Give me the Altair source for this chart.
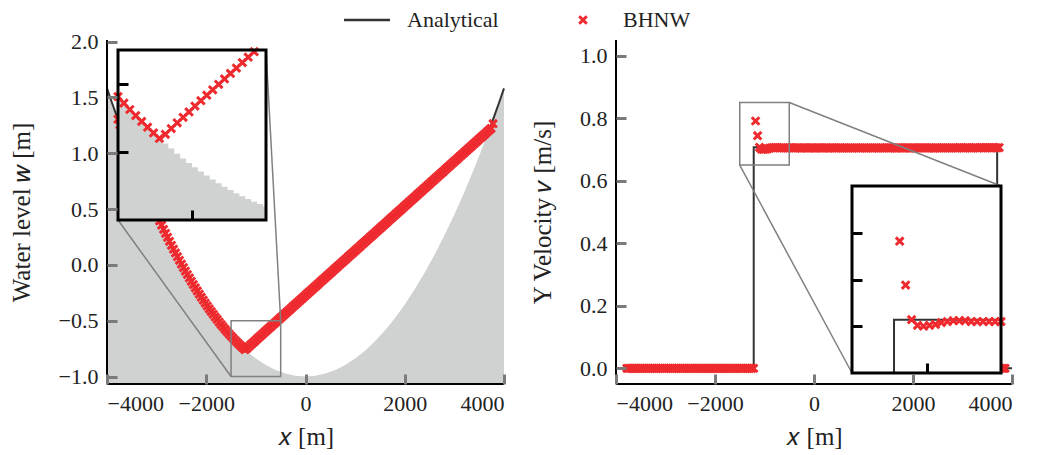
import altair as alt
import pandas as pd

# ---------------- data ----------------
X_CELLS = [
    -3780, -3740, -3700, -3660, -3620, -3580, -3540, -3500, -3460, -3420,
    -3380, -3340, -3300, -3260, -3220, -3180, -3140, -3100, -3060, -3020,
    -2980, -2940, -2900, -2860, -2820, -2780, -2740, -2700, -2660, -2620,
    -2580, -2540, -2500, -2460, -2420, -2380, -2340, -2300, -2260, -2220,
    -2180, -2140, -2100, -2060, -2020, -1980, -1940, -1900, -1860, -1820,
    -1780, -1740, -1700, -1660, -1620, -1580, -1540, -1500, -1460, -1420,
    -1380, -1340, -1300, -1260, -1220, -1180, -1140, -1100, -1060, -1020,
    -980, -940, -900, -860, -820, -780, -740, -700, -660, -620,
    -580, -540, -500, -460, -420, -380, -340, -300, -260, -220,
    -180, -140, -100, -60, -20, 20, 60, 100, 140, 180,
    220, 260, 300, 340, 380, 420, 460, 500, 540, 580,
    620, 660, 700, 740, 780, 820, 860, 900, 940, 980,
    1020, 1060, 1100, 1140, 1180, 1220, 1260, 1300, 1340, 1380,
    1420, 1460, 1500, 1540, 1580, 1620, 1660, 1700, 1740, 1780,
    1820, 1860, 1900, 1940, 1980, 2020, 2060, 2100, 2140, 2180,
    2220, 2260, 2300, 2340, 2380, 2420, 2460, 2500, 2540, 2580,
    2620, 2660, 2700, 2740, 2780, 2820, 2860, 2900, 2940, 2980,
    3020, 3060, 3100, 3140, 3180, 3220, 3260, 3300, 3340, 3380,
    3420, 3460, 3500, 3540, 3580, 3620, 3660, 3700, 3740, 3780,
    3820, 3860,
]

# BHNW water level w (first 190 cells)
W_BHNW = [
    1.305, 1.256, 1.208, 1.161, 1.114, 1.067, 1.021, 0.976, 0.931, 0.887,
    0.843, 0.799, 0.756, 0.714, 0.672, 0.631, 0.590, 0.550, 0.510, 0.471,
    0.432, 0.394, 0.356, 0.319, 0.283, 0.247, 0.211, 0.176, 0.141, 0.107,
    0.074, 0.041, 0.008, -0.024, -0.055, -0.086, -0.117, -0.147, -0.176, -0.205,
    -0.233, -0.261, -0.289, -0.316, -0.342, -0.368, -0.393, -0.418, -0.442, -0.466,
    -0.489, -0.512, -0.534, -0.556, -0.577, -0.597, -0.617, -0.637, -0.656, -0.675,
    -0.693, -0.710, -0.727, -0.744, -0.760, -0.748, -0.731, -0.714, -0.698, -0.682,
    -0.665, -0.649, -0.633, -0.617, -0.601, -0.585, -0.569, -0.553, -0.537, -0.521,
    -0.505, -0.489, -0.473, -0.457, -0.441, -0.425, -0.409, -0.393, -0.377, -0.361,
    -0.345, -0.329, -0.313, -0.297, -0.281, -0.265, -0.249, -0.233, -0.217, -0.201,
    -0.185, -0.169, -0.153, -0.137, -0.121, -0.105, -0.089, -0.073, -0.057, -0.041,
    -0.025, -0.009, 0.007, 0.023, 0.039, 0.055, 0.071, 0.087, 0.103, 0.119,
    0.135, 0.151, 0.167, 0.183, 0.199, 0.215, 0.231, 0.247, 0.263, 0.279,
    0.295, 0.311, 0.327, 0.343, 0.359, 0.375, 0.391, 0.407, 0.423, 0.439,
    0.455, 0.471, 0.487, 0.503, 0.519, 0.535, 0.551, 0.567, 0.583, 0.599,
    0.615, 0.631, 0.647, 0.663, 0.679, 0.695, 0.711, 0.727, 0.743, 0.759,
    0.775, 0.791, 0.807, 0.823, 0.839, 0.855, 0.871, 0.887, 0.903, 0.919,
    0.935, 0.951, 0.967, 0.983, 0.999, 1.015, 1.031, 1.047, 1.063, 1.079,
    1.095, 1.111, 1.127, 1.143, 1.159, 1.175, 1.191, 1.207, 1.223, 1.265,
]

# BHNW y-velocity v (all 192 cells)
V_BHNW = [
    0.0, 0.0, 0.0, 0.0, 0.0, 0.0, 0.0, 0.0, 0.0, 0.0,
    0.0, 0.0, 0.0, 0.0, 0.0, 0.0, 0.0, 0.0, 0.0, 0.0,
    0.0, 0.0, 0.0, 0.0, 0.0, 0.0, 0.0, 0.0, 0.0, 0.0,
    0.0, 0.0, 0.0, 0.0, 0.0, 0.0, 0.0, 0.0, 0.0, 0.0,
    0.0, 0.0, 0.0, 0.0, 0.0, 0.0, 0.0, 0.0, 0.0, 0.0,
    0.0, 0.0, 0.0, 0.0, 0.0, 0.0, 0.0, 0.0, 0.0, 0.0,
    0.0, 0.0, 0.0, 0.0, 0.0, 0.791, 0.744, 0.707, 0.701, 0.700,
    0.701, 0.702, 0.704, 0.705, 0.706, 0.706, 0.706, 0.705, 0.705, 0.705,
    0.705, 0.705, 0.705, 0.706, 0.705, 0.705, 0.705, 0.705, 0.704, 0.705,
    0.705, 0.705, 0.705, 0.705, 0.705, 0.704, 0.705, 0.705, 0.705, 0.705,
    0.705, 0.705, 0.704, 0.705, 0.705, 0.705, 0.705, 0.705, 0.705, 0.704,
    0.705, 0.705, 0.705, 0.705, 0.704, 0.705, 0.705, 0.705, 0.705, 0.705,
    0.705, 0.704, 0.705, 0.705, 0.705, 0.705, 0.705, 0.704, 0.705, 0.705,
    0.705, 0.705, 0.705, 0.705, 0.705, 0.705, 0.704, 0.705, 0.705, 0.705,
    0.705, 0.705, 0.705, 0.704, 0.705, 0.705, 0.705, 0.705, 0.705, 0.705,
    0.705, 0.705, 0.705, 0.705, 0.705, 0.704, 0.705, 0.705, 0.705, 0.705,
    0.705, 0.705, 0.705, 0.705, 0.705, 0.705, 0.705, 0.705, 0.706, 0.705,
    0.705, 0.705, 0.706, 0.705, 0.705, 0.705, 0.706, 0.705, 0.705, 0.706,
    0.705, 0.706, 0.705, 0.706, 0.705, 0.706, 0.706, 0.705, 0.706, 0.0,
    0.0, 0.0,
]

# bathymetry (gray fill) of the left panel
BED_X = [-4000, -3800, -3600, -3400, -3200, -3000, -2800, -2600, -2400, -2200,
         -2000, -1800, -1600, -1400, -1200, -1000, -800, -600, -400, -200, 0,
         200, 400, 600, 800, 1000, 1200, 1400, 1600, 1800, 2000,
         2200, 2400, 2600, 2800, 3000, 3200, 3400, 3600, 3800, 4000]
BED_Z = [1.581, 1.329, 1.090, 0.865, 0.652, 0.452, 0.265, 0.090, -0.071, -0.219,
         -0.355, -0.477, -0.587, -0.684, -0.768, -0.839, -0.897, -0.942, -0.974, -0.994, -1.000,
         -0.994, -0.974, -0.942, -0.897, -0.839, -0.768, -0.684, -0.587, -0.477, -0.355,
         -0.219, -0.071, 0.090, 0.265, 0.452, 0.652, 0.865, 1.090, 1.329, 1.581]

# cell-wise bathymetry seen in the left inset
INSET_BED_X = [-1500, -1460, -1420, -1380, -1340, -1300, -1260, -1220, -1180, -1140,
               -1100, -1060, -1020, -980, -940, -900, -860, -820, -780, -740,
               -700, -660, -620, -580, -540, -500]
INSET_BED_Z = [-0.637, -0.656, -0.675, -0.693, -0.710, -0.727, -0.744, -0.760, -0.775, -0.790,
               -0.805, -0.819, -0.832, -0.845, -0.857, -0.869, -0.881, -0.892, -0.902, -0.912,
               -0.921, -0.930, -0.938, -0.946, -0.953, -0.960]

# analytical water level
ANA_W_X = [-4000, -3900, -3800, -3700, -3600, -3500, -3400, -3300, -3200, -3100, -3000,
           -2800, -2600, -2400, -2200, -2000, -1800, -1600, -1500, -1400, -1300, -1218,
           3700, 3800, 3900, 4000]
ANA_W = [1.581, 1.453, 1.329, 1.208, 1.090, 0.976, 0.865, 0.756, 0.652, 0.550, 0.452,
         0.265, 0.090, -0.071, -0.219, -0.355, -0.477, -0.587, -0.637, -0.684, -0.727, -0.761,
         1.208, 1.329, 1.453, 1.581]
ANA_W_INSET_X = [-1500, -1450, -1400, -1350, -1300, -1250, -1218, -567]
ANA_W_INSET = [-0.637, -0.661, -0.684, -0.706, -0.727, -0.748, -0.761, -0.500]

# analytical y-velocity (step after)
ANA_V_X = [-4000, -1218, 3700, 4000]
ANA_V = [0.0, 0.707, 0.0, 0.0]

# zoom windows and axis floors
ZOOM_X = [-1500, -500]
ZOOM_W = [-1.0, -0.5]
ZOOM_V = [0.65, 0.85]
W_FLOOR = -1.067

LEGEND_LABELS = ["Analytical", "BHNW"]

# ---------------- styling ----------------
FONT = "Liberation Serif"
RED = "#ee2a2e"
GRAY_FILL = "#d0d2d2"
LINE_C = "#333333"
BOX_C = "#808080"
TICK_C = "#7a7a7a"
TXT = "#222222"
XMARK = "M-1,-1L1,1M-1,1L1,-1"
MS, MSW = 58, 3.0

W, H = 905, 344
L_X, L_Y = [0, 397], [344, 0]
R_X, R_Y = [509, 905], [344, 0]
LI_X, LI_Y = [11, 159], [180, 10]
RI_X, RI_Y = [745, 894], [333, 146]

df_w = pd.DataFrame({"x": X_CELLS[:len(W_BHNW)], "w": W_BHNW})
df_v = pd.DataFrame({"x": X_CELLS, "v": V_BHNW})
df_bed = pd.DataFrame({"x": BED_X, "z": BED_Z})
df_ibed = pd.DataFrame({"x": INSET_BED_X, "z": INSET_BED_Z})
df_aw = pd.DataFrame({"x": ANA_W_X, "w": ANA_W})
df_awi = pd.DataFrame({"x": ANA_W_INSET_X, "w": ANA_W_INSET})
df_av = pd.DataFrame({"x": ANA_V_X, "v": ANA_V})
df_zl = pd.DataFrame({"x0": [ZOOM_X[0]], "x1": [ZOOM_X[1]], "y0": [ZOOM_W[0]], "y1": [ZOOM_W[1]]})
df_zr = pd.DataFrame({"x0": [ZOOM_X[0]], "x1": [ZOOM_X[1]], "y0": [ZOOM_V[0]], "y1": [ZOOM_V[1]]})
df_wi = df_w[(df_w.x >= ZOOM_X[0]) & (df_w.x <= ZOOM_X[1]) & (df_w.w >= ZOOM_W[0]) & (df_w.w <= ZOOM_W[1])]
df_vi = df_v[(df_v.x >= ZOOM_X[0]) & (df_v.x <= ZOOM_X[1]) & (df_v.v >= ZOOM_V[0]) & (df_v.v <= ZOOM_V[1])]
df_leg = pd.DataFrame({"label": LEGEND_LABELS})

XT = [-4000, -2000, 0, 2000, 4000]


def main_x_axis():
    return alt.Axis(orient="bottom", values=XT, format="d", offset=-10, tickSize=10,
                    tickWidth=3, tickColor=TICK_C, domain=False, grid=False, zindex=1,
                    labelPadding=9, title="𝑥 [m]", titlePadding=10)


def main_y_axis(values, title, off):
    return alt.Axis(orient="left", values=values, format=".1f", offset=off, tickSize=10,
                    tickWidth=3, tickColor=TICK_C, domain=False, grid=False, zindex=1,
                    labelPadding=9, title=title, titlePadding=24)


def inset_axis(orient, values, off):
    return alt.Axis(orient=orient, values=values, offset=off, tickSize=10, tickWidth=3,
                    tickColor="black", labels=False, domain=False, grid=False, zindex=1,
                    title=None)


def xmarks(df, x, y):
    return alt.Chart(df).mark_point(shape=XMARK, size=MS, filled=False, color=RED,
                                    strokeWidth=MSW, opacity=1).encode(x=x, y=y)


# ---------- left main ----------
xL = alt.Scale(domain=[-4000, 4000], range=L_X)
yL = alt.Scale(domain=[W_FLOOR, 2.015], range=L_Y)
axLx = main_x_axis()
axLy = main_y_axis([-1.0, -0.5, 0.0, 0.5, 1.0, 1.5, 2.0], "Water level 𝑤 [m]", -10)

left = alt.layer(
    alt.Chart(df_bed).mark_area(color=GRAY_FILL).encode(
        x=alt.X("x:Q", scale=xL, axis=axLx), y=alt.Y("z:Q", scale=yL, axis=axLy),
        y2=alt.datum(W_FLOOR)),
    alt.Chart(df_aw).mark_line(color=LINE_C, strokeWidth=2).encode(
        x=alt.X("x:Q", scale=xL, axis=axLx), y=alt.Y("w:Q", scale=yL, axis=axLy)),
    xmarks(df_w, alt.X("x:Q", scale=xL, axis=axLx), alt.Y("w:Q", scale=yL, axis=axLy)),
    alt.Chart(df_zl).mark_rect(filled=False, color=BOX_C, strokeWidth=1.5).encode(
        x=alt.X("x0:Q", scale=xL, axis=axLx), x2="x1:Q",
        y=alt.Y("y0:Q", scale=yL, axis=axLy), y2="y1:Q"),
    alt.Chart(df_zl).mark_rule(color=BOX_C, strokeWidth=1.5).encode(
        x=alt.X("x0:Q", scale=xL, axis=axLx), y=alt.Y("y0:Q", scale=yL, axis=axLy),
        x2=alt.value(LI_X[0]), y2=alt.value(LI_Y[0])),
    alt.Chart(df_zl).mark_rule(color=BOX_C, strokeWidth=1.5).encode(
        x=alt.X("x1:Q", scale=xL, axis=axLx), y=alt.Y("y1:Q", scale=yL, axis=axLy),
        x2=alt.value(LI_X[1]), y2=alt.value(LI_Y[1])),
)

# ---------- right main ----------
xR = alt.Scale(domain=[-4000, 4000], range=R_X)
yR = alt.Scale(domain=[-0.05, 1.05], range=R_Y)
axRx = main_x_axis()
axRy = main_y_axis([0.0, 0.2, 0.4, 0.6, 0.8, 1.0], "Y Velocity 𝑣 [m/s]", -(R_X[0] + 10))

right = alt.layer(
    alt.Chart(df_av).mark_line(color=LINE_C, strokeWidth=2, interpolate="step-after").encode(
        x=alt.X("x:Q", scale=xR, axis=axRx), y=alt.Y("v:Q", scale=yR, axis=axRy)),
    xmarks(df_v, alt.X("x:Q", scale=xR, axis=axRx), alt.Y("v:Q", scale=yR, axis=axRy)),
    alt.Chart(df_zr).mark_rect(filled=False, color=BOX_C, strokeWidth=1.5).encode(
        x=alt.X("x0:Q", scale=xR, axis=axRx), x2="x1:Q",
        y=alt.Y("y0:Q", scale=yR, axis=axRy), y2="y1:Q"),
    alt.Chart(df_zr).mark_rule(color=BOX_C, strokeWidth=1.5).encode(
        x=alt.X("x1:Q", scale=xR, axis=axRx), y=alt.Y("y1:Q", scale=yR, axis=axRy),
        x2=alt.value(RI_X[1]), y2=alt.value(RI_Y[1])),
    alt.Chart(df_zr).mark_rule(color=BOX_C, strokeWidth=1.5).encode(
        x=alt.X("x0:Q", scale=xR, axis=axRx), y=alt.Y("y0:Q", scale=yR, axis=axRy),
        x2=alt.value(RI_X[0]), y2=alt.value(RI_Y[0])),
)

# ---------- left inset ----------
xLI = alt.Scale(domain=ZOOM_X, range=LI_X)
yLI = alt.Scale(domain=ZOOM_W, range=LI_Y)
axLIx = inset_axis("bottom", [-1000], (LI_Y[0] - 10) - H)
axLIy = inset_axis("left", [-0.8, -0.6], -(LI_X[0] + 10))

left_inset = alt.layer(
    alt.Chart(df_zl).mark_rect(color="white").encode(
        x=alt.X("x0:Q", scale=xLI, axis=axLIx), x2="x1:Q",
        y=alt.Y("y0:Q", scale=yLI, axis=axLIy), y2="y1:Q"),
    alt.Chart(df_ibed).mark_area(color=GRAY_FILL, interpolate="step").encode(
        x=alt.X("x:Q", scale=xLI, axis=axLIx), y=alt.Y("z:Q", scale=yLI, axis=axLIy),
        y2=alt.datum(ZOOM_W[0])),
    alt.Chart(df_awi).mark_line(color=LINE_C, strokeWidth=2).encode(
        x=alt.X("x:Q", scale=xLI, axis=axLIx), y=alt.Y("w:Q", scale=yLI, axis=axLIy)),
    xmarks(df_wi, alt.X("x:Q", scale=xLI, axis=axLIx), alt.Y("w:Q", scale=yLI, axis=axLIy)),
    alt.Chart(df_zl).mark_rect(filled=False, color="black", strokeWidth=3).encode(
        x=alt.X("x0:Q", scale=xLI, axis=axLIx), x2="x1:Q",
        y=alt.Y("y0:Q", scale=yLI, axis=axLIy), y2="y1:Q"),
)

# ---------- right inset ----------
xRI = alt.Scale(domain=ZOOM_X, range=RI_X, clamp=True)
yRI = alt.Scale(domain=ZOOM_V, range=RI_Y, clamp=True)
axRIx = inset_axis("bottom", [-1000], (RI_Y[0] - 10) - H)
axRIy = inset_axis("left", [0.70, 0.75, 0.80], -(RI_X[0] + 10))

right_inset = alt.layer(
    alt.Chart(df_zr).mark_rect(color="white").encode(
        x=alt.X("x0:Q", scale=xRI, axis=axRIx), x2="x1:Q",
        y=alt.Y("y0:Q", scale=yRI, axis=axRIy), y2="y1:Q"),
    alt.Chart(df_av).mark_line(color=LINE_C, strokeWidth=2, interpolate="step-after").encode(
        x=alt.X("x:Q", scale=xRI, axis=axRIx), y=alt.Y("v:Q", scale=yRI, axis=axRIy)),
    xmarks(df_vi, alt.X("x:Q", scale=xRI, axis=axRIx), alt.Y("v:Q", scale=yRI, axis=axRIy)),
    alt.Chart(df_zr).mark_rect(filled=False, color="black", strokeWidth=3).encode(
        x=alt.X("x0:Q", scale=xRI, axis=axRIx), x2="x1:Q",
        y=alt.Y("y0:Q", scale=yRI, axis=axRIy), y2="y1:Q"),
)

# ---------- spines ----------
spine = alt.Chart(df_leg.head(1))
spines = alt.layer(
    spine.mark_rule(color="black", strokeWidth=2).encode(
        x=alt.value(L_X[0]), y=alt.value(0), y2=alt.value(H)),
    spine.mark_rule(color="black", strokeWidth=2).encode(
        x=alt.value(L_X[0]), x2=alt.value(L_X[1]), y=alt.value(H)),
    spine.mark_rule(color="black", strokeWidth=2).encode(
        x=alt.value(R_X[0]), y=alt.value(0), y2=alt.value(H)),
    spine.mark_rule(color="black", strokeWidth=2).encode(
        x=alt.value(R_X[0]), x2=alt.value(R_X[1]), y=alt.value(H)),
)

# ---------- legend ----------
LEG_Y = -20
leg_a = alt.Chart(df_leg[df_leg.label == LEGEND_LABELS[0]])
leg_b = alt.Chart(df_leg[df_leg.label == LEGEND_LABELS[1]])
legend = alt.layer(
    leg_a.mark_rule(color=LINE_C, strokeWidth=2.5).encode(
        x=alt.value(237), x2=alt.value(283), y=alt.value(LEG_Y)),
    leg_a.mark_text(align="left", baseline="middle", font=FONT, fontSize=22, color=TXT).encode(
        x=alt.value(300), y=alt.value(LEG_Y), text="label:N"),
    leg_b.mark_point(shape=XMARK, size=MS, filled=False, color=RED, strokeWidth=MSW,
                     opacity=1).encode(x=alt.value(476), y=alt.value(LEG_Y)),
    leg_b.mark_text(align="left", baseline="middle", font=FONT, fontSize=22, color=TXT).encode(
        x=alt.value(516), y=alt.value(LEG_Y), text="label:N"),
)

chart = alt.layer(left, right, left_inset, right_inset, spines, legend).resolve_scale(
    x="independent", y="independent"
).properties(
    width=W, height=H,
    autosize=alt.AutoSizeParams(type="none"),
    padding={"left": 99, "top": 32, "right": 12, "bottom": 70},
).configure_view(stroke=None).configure_axis(
    labelFont=FONT, labelFontSize=22, labelColor=TXT,
    titleFont=FONT, titleFontSize=25, titleFontWeight="normal", titleColor=TXT,
)

chart.save("out.html", embed_options={"renderer": "svg", "actions": False})
